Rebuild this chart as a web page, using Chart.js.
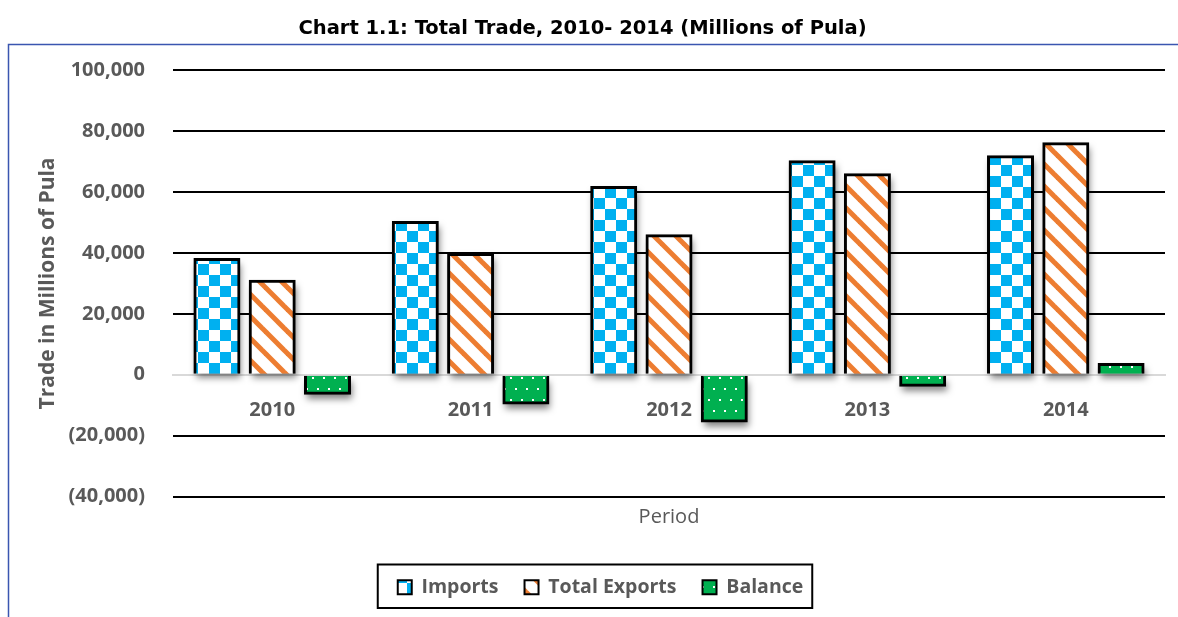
<!DOCTYPE html>
<html>
<head>
<meta charset="utf-8">
<script src="https://cdn.jsdelivr.net/npm/chart.js@4.4.1/dist/chart.umd.min.js"></script>
<style>
  html, body { margin: 0; padding: 0; background: #fff; }
  #wrap { width: 1178px; height: 617px; position: relative; }
</style>
</head>
<body>
<div id="wrap"><canvas id="trade-chart"></canvas></div>
<script>
const years = ['2010', '2011', '2012', '2013', '2014'];
const imports = [38400, 50500, 62000, 70500, 72100];
const totalExports = [31200, 40000, 46200, 66200, 76400];
const balance = [-6600, -9800, -15700, -3900, 3900];
const yMin = -40000;
const yMax = 100000;
const yStep = 20000;

const gray = '#595959';
const fontName = '"Open Sans", "Liberation Sans", sans-serif';

function makePattern(size, paint) {
  const c = document.createElement('canvas');
  c.width = size;
  c.height = size;
  const g = c.getContext('2d');
  paint(g, size);
  return document.createElement('canvas').getContext('2d').createPattern(c, 'repeat');
}

const checkerPattern = makePattern(22, (g, s) => {
  g.fillStyle = '#fff';
  g.fillRect(0, 0, s, s);
  g.fillStyle = '#00B0F0';
  g.fillRect(0, 0, s / 2, s / 2);
  g.fillRect(s / 2, s / 2, s / 2, s / 2);
});

const stripePattern = makePattern(22, (g, s) => {
  g.fillStyle = '#fff';
  g.fillRect(0, 0, s, s);
  g.strokeStyle = '#ED7D31';
  g.lineWidth = 5;
  [-s, 0, s].forEach((off) => {
    g.beginPath();
    g.moveTo(off - 2, -2);
    g.lineTo(off + s + 2, s + 2);
    g.stroke();
  });
});

const dotPattern = makePattern(22, (g, s) => {
  g.fillStyle = '#00B050';
  g.fillRect(0, 0, s, s);
  g.fillStyle = '#fff';
  g.fillRect(4, 3, 2, 2);
  g.fillRect(15, 3, 2, 2);
  g.fillRect(9, 14, 2, 2);
  g.fillRect(20, 14, 2, 2);
});

function formatTick(value) {
  const txt = Math.abs(value).toLocaleString('en-US');
  return value < 0 ? '(' + txt + ')' : txt;
}

// dark soft shadow under every bar, drawn before the bars themselves
const barShadow = {
  id: 'barShadow',
  beforeDatasetsDraw(chart) {
    const ctx = chart.ctx;
    ctx.save();
    ctx.shadowColor = 'rgba(0, 0, 0, 0.5)';
    ctx.shadowBlur = 7;
    ctx.shadowOffsetX = 2;
    ctx.shadowOffsetY = 5;
    ctx.fillStyle = '#000';
    chart.data.datasets.forEach((ds, i) => {
      chart.getDatasetMeta(i).data.forEach((bar) => {
        const p = bar.getProps(['x', 'y', 'base', 'width'], true);
        const top = Math.min(p.y, p.base);
        ctx.fillRect(p.x - p.width / 2 + 1, top + 1, p.width - 2, Math.abs(p.base - p.y) - 2);
      });
    });
    ctx.restore();
  },
};

// legend sits a little right of the plot centre in the original
const legendShift = {
  id: 'legendShift',
  afterLayout(chart) {
    chart.legend.left += 36;
  },
};

// outer frame of the chart and box around the legend
const frames = {
  id: 'frames',
  afterDraw(chart) {
    const ctx = chart.ctx;
    ctx.save();
    ctx.strokeStyle = '#3A56B0';
    ctx.lineWidth = 1.5;
    ctx.beginPath();
    ctx.moveTo(chart.width + 2, 44.5);
    ctx.lineTo(8.5, 44.5);
    ctx.lineTo(8.5, chart.height + 2);
    ctx.stroke();

    const boxes = chart.legend.legendHitBoxes;
    if (boxes && boxes.length) {
      const first = boxes[0];
      const last = boxes[boxes.length - 1];
      const left = first.left - 20;
      const right = last.left + last.width + 9;
      const top = first.top - 13;
      const bottom = first.top + first.height + 11;
      ctx.strokeStyle = '#000';
      ctx.lineWidth = 2;
      ctx.strokeRect(left, top, right - left, bottom - top);
    }
    ctx.restore();
  },
};

new Chart(document.getElementById('trade-chart'), {
  type: 'bar',
  data: {
    labels: years,
    datasets: [
      {
        label: 'Imports',
        data: imports,
        backgroundColor: checkerPattern,
        borderColor: '#000',
        borderWidth: 3,
      },
      {
        label: 'Total Exports',
        data: totalExports,
        backgroundColor: stripePattern,
        borderColor: '#000',
        borderWidth: 3,
      },
      {
        label: 'Balance',
        data: balance,
        backgroundColor: dotPattern,
        borderColor: '#000',
        borderWidth: 3,
      },
    ],
  },
  options: {
    responsive: true,
    maintainAspectRatio: false,
    animation: false,
    categoryPercentage: 0.836,
    barPercentage: 0.85,
    layout: {
      padding: { left: 0, right: 13, top: 0, bottom: 10 },
    },
    plugins: {
      title: {
        display: true,
        text: 'Chart 1.1: Total Trade, 2010- 2014 (Millions of Pula)',
        color: '#000',
        font: { family: '"DejaVu Sans", sans-serif', size: 19.5, weight: 'bold' },
        padding: { top: 17, bottom: 30 },
      },
      legend: {
        position: 'bottom',
        labels: {
          color: gray,
          font: { family: fontName, size: 19.5, weight: 'bold' },
          boxWidth: 14,
          boxHeight: 14,
          padding: 26,
          generateLabels(chart) {
            return Chart.defaults.plugins.legend.labels.generateLabels(chart).map((item) => {
              item.lineWidth = 2;
              return item;
            });
          },
        },
      },
      tooltip: { enabled: false },
    },
    scales: {
      x: {
        position: { y: 0 },
        grid: { display: false },
        border: { color: '#D9D9D9', width: 2 },
        ticks: {
          color: gray,
          font: { family: fontName, size: 20, weight: 'bold' },
          padding: 16,
        },
      },
      x2: {
        axis: 'x',
        position: 'bottom',
        grid: { display: false },
        border: { display: false },
        ticks: { display: false },
        title: {
          display: true,
          text: 'Period',
          color: gray,
          font: { family: fontName, size: 20 },
          padding: { top: 1, bottom: 22 },
        },
      },
      y: {
        min: yMin,
        max: yMax,
        ticks: {
          stepSize: yStep,
          color: gray,
          font: { family: fontName, size: 20, weight: 'bold' },
          padding: 28,
          callback: formatTick,
        },
        grid: {
          drawTicks: false,
          lineWidth: 2,
          color: (c) => (c.tick && c.tick.value === 0 ? '#D9D9D9' : '#000'),
        },
        border: { display: false },
        title: {
          display: true,
          text: 'Trade in Millions of Pula',
          color: gray,
          font: { family: fontName, size: 21, weight: 'bold' },
          padding: { top: 35, bottom: 0 },
        },
        afterFit(scale) {
          scale.width = 173;
        },
      },
    },
  },
  plugins: [barShadow, legendShift, frames],
});
</script>
</body>
</html>
